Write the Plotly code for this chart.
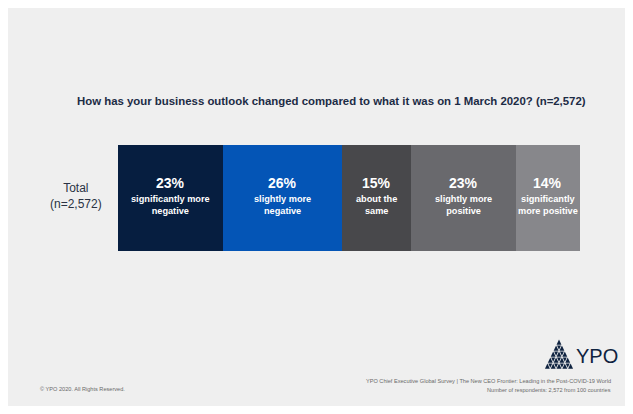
import plotly.graph_objects as go

W, H = 633, 414

# Survey responses (share of respondents, %)
row_label = "Total<br>(n=2,572)"
categories = [
    "significantly more<br>negative",
    "slightly more<br>negative",
    "about the<br>same",
    "slightly more<br>positive",
    "significantly<br>more positive",
]
values = [23, 26, 15, 23, 14]
colors = ["#061e40", "#0455b6", "#48484b", "#69696d", "#87878b"]

title_text = "How has your business outlook changed compared to what it was on 1 March 2020? (n=2,572)"
copyright_text = "© YPO 2020. All Rights Reserved."
source_lines = [
    "YPO Chief Executive Global Survey | The New CEO Frontier: Leading in the Post-COVID-19 World",
    "Number of respondents: 2,572 from 100 countries",
]

FONT = "Liberation Sans, Arial, Helvetica, sans-serif"
NAVY = "#0f2340"


def px(x):
    return x / W


def py(y):
    return 1 - y / H


fig = go.Figure()
for cat, val, col in zip(categories, values, colors):
    fig.add_trace(go.Bar(
        y=[0], x=[val], orientation="h", marker=dict(color=col, line=dict(width=0)),
        width=1, hoverinfo="skip", showlegend=False, name=cat,
    ))

annotations = []
start = 0
for cat, val in zip(categories, values):
    mid = start + val / 2
    start += val
    annotations.append(dict(
        x=mid, y=0, xref="x", yref="y", yshift=15, showarrow=False,
        text=f"<b>{val}%</b>", font=dict(family=FONT, size=14, color="white"),
    ))
    annotations.append(dict(
        x=mid, y=0, xref="x", yref="y", yshift=-7, showarrow=False,
        text=f"<b>{cat}</b>", font=dict(family=FONT, size=9.2, color="white"),
    ))

total = sum(values)


def note(x, y, text, size, color, xanchor="center", bold=False):
    return dict(x=px(x), y=py(y), xref="paper", yref="paper", showarrow=False,
                xanchor=xanchor, yanchor="middle",
                text=f"<b>{text}</b>" if bold else text,
                font=dict(family=FONT, size=size, color=color))


annotations += [
    note(331, 101, title_text, 11.4, "#1c2b45", bold=True),
    note(76, 196, row_label, 12, "#2a3344"),
    note(38, 389, copyright_text, 5.6, "#6a6a6a", xanchor="left"),
    note(613, 381, source_lines[0], 5.6, "#6a6a6a", xanchor="right"),
    note(613, 389.5, source_lines[1], 5.6, "#6a6a6a", xanchor="right"),
    note(574, 356, "YPO", 20, NAVY, xanchor="left"),
]

shapes = [
    dict(type="rect", xref="paper", yref="paper", x0=px(8), x1=px(625), y0=py(406), y1=py(8),
         fillcolor="#efefef", line=dict(width=0), layer="below"),
]

# YPO mark: a triangle built from small triangles
apex_x, apex_y, base_y, half_w = 559.0, 339.0, 369.0, 14.5
rows = 5
rh = (base_y - apex_y) / rows
tw = 2 * half_w / rows
for r in range(rows):
    y_top = apex_y + r * rh
    y_bot = y_top + rh
    left = apex_x - (r + 1) * tw / 2
    for k in range(r + 1):
        x0 = left + k * tw
        pts = [(x0 + 0.45, y_bot - 0.3), (x0 + tw - 0.45, y_bot - 0.3), (x0 + tw / 2, y_top + 0.5)]
        path = "M " + " L ".join(f"{px(a):.5f},{py(b):.5f}" for a, b in pts) + " Z"
        shapes.append(dict(type="path", xref="paper", yref="paper", path=path,
                           fillcolor=NAVY, line=dict(width=0)))
    for k in range(r):
        x0 = left + tw / 2 + k * tw
        pts = [(x0 + 0.9, y_top + 0.6), (x0 + tw - 0.9, y_top + 0.6), (x0 + tw / 2, y_bot - 1.2)]
        path = "M " + " L ".join(f"{px(a):.5f},{py(b):.5f}" for a, b in pts) + " Z"
        shapes.append(dict(type="path", xref="paper", yref="paper", path=path,
                           fillcolor=NAVY, line=dict(width=0)))

fig.update_layout(
    width=W, height=H, margin=dict(l=0, r=0, t=0, b=0),
    paper_bgcolor="white", plot_bgcolor="rgba(0,0,0,0)",
    barmode="stack", bargap=0,
    xaxis=dict(domain=[px(118), px(580)], range=[0, total], visible=False, fixedrange=True),
    yaxis=dict(domain=[py(251), py(145)], range=[-0.5, 0.5], visible=False, fixedrange=True),
    annotations=annotations, shapes=shapes, showlegend=False,
)

fig.write_html("out.html")
